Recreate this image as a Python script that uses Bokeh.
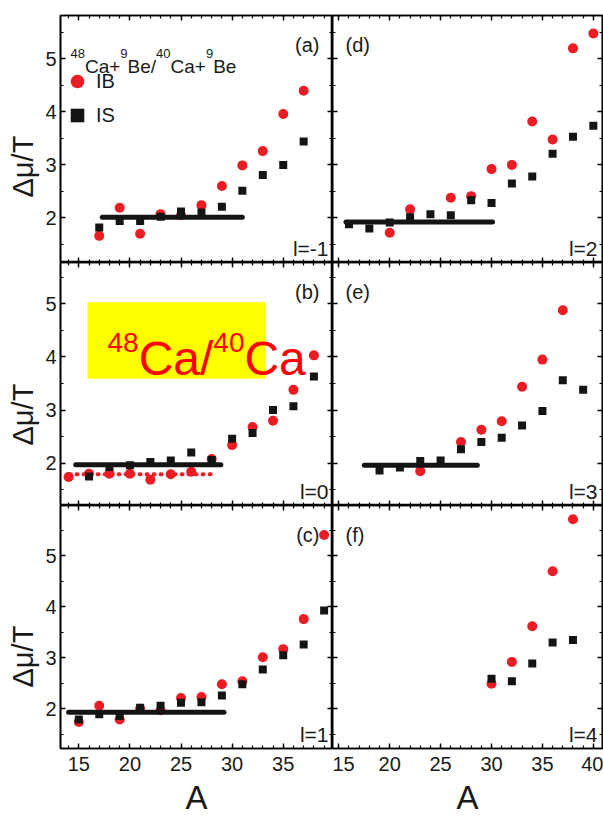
from bokeh.plotting import figure
from bokeh.layouts import gridplot
from bokeh.models import (Range1d, LinearAxis, Label, Legend, LegendItem, BoxAnnotation,
                          SingleIntervalTicker, CustomJSTickFormatter, Title)
from bokeh.embed import file_html
from bokeh.resources import INLINE

# ---------------- data ----------------
# panel (a)  l = -1
A_a = [17, 19, 21, 23, 25, 27, 29, 31, 33, 35, 37]
IB_a = [1.66, 2.19, 1.70, 2.07, 2.05, 2.24, 2.60, 2.99, 3.26, 3.96, 4.40]
IS_a = [1.82, 1.94, 1.94, 2.02, 2.12, 2.10, 2.21, 2.51, 2.81, 3.00, 3.44]
FIT_a_A = [17.3, 31.0]
FIT_a = [2.01, 2.01]

# panel (b)  l = 0
A_b_IB = [14, 16, 18, 20, 22, 24, 26, 28, 30, 32, 34, 36, 38]
IB_b = [1.74, 1.80, 1.80, 1.80, 1.69, 1.79, 1.84, 2.08, 2.34, 2.68, 2.80, 3.38, 4.03]
A_b_IS = [16, 18, 20, 22, 24, 26, 28, 30, 32, 34, 36, 38]
IS_b = [1.75, 1.93, 1.96, 2.02, 2.05, 2.20, 2.06, 2.46, 2.57, 3.00, 3.07, 3.63]
FIT_b_A = [14.7, 28.9]
FIT_b = [1.97, 1.97]
FITR_b_A = [14.1, 28.4]
FITR_b = [1.79, 1.79]

# panel (c)  l = 1
A_c = [15, 17, 19, 21, 23, 25, 27, 29, 31, 33, 35, 37, 39]
IB_c = [1.74, 2.06, 1.79, 2.00, 1.97, 2.21, 2.23, 2.48, 2.54, 3.01, 3.17, 3.76, 5.41]
IS_c = [1.79, 1.89, 1.86, 2.02, 2.06, 2.12, 2.13, 2.26, 2.48, 2.77, 3.05, 3.26, 3.93]
FIT_c_A = [14.0, 29.2]
FIT_c = [1.93, 1.93]

# panel (d)  l = 2
A_d_IB = [20, 22, 26, 28, 30, 32, 34, 36, 38, 40]
IB_d = [1.72, 2.16, 2.38, 2.41, 2.92, 3.00, 3.82, 3.48, 5.20, 5.48]
A_d_IS = [16, 18, 20, 22, 24, 26, 28, 30, 32, 34, 36, 38, 40]
IS_d = [1.88, 1.80, 1.91, 2.01, 2.07, 2.05, 2.33, 2.28, 2.65, 2.78, 3.21, 3.53, 3.74]
FIT_d_A = [15.7, 30.1]
FIT_d = [1.92, 1.92]

# panel (e)  l = 3
A_e_IB = [23, 27, 29, 31, 33, 35, 37]
IB_e = [1.85, 2.40, 2.63, 2.79, 3.44, 3.95, 4.88]
A_e_IS = [19, 21, 23, 25, 27, 29, 31, 33, 35, 37, 39]
IS_e = [1.86, 1.92, 2.04, 2.05, 2.26, 2.40, 2.48, 2.71, 2.98, 3.56, 3.38]
FIT_e_A = [17.5, 28.6]
FIT_e = [1.96, 1.96]

# panel (f)  l = 4
A_f = [30, 32, 34, 36, 38]
IB_f = [2.49, 2.92, 3.62, 4.70, 5.72]
IS_f = [2.59, 2.54, 2.89, 3.30, 3.35]

TAGS = [["(a)", "(d)"], ["(b)", "(e)"], ["(c)", "(f)"]]
LTXT = [["l=-1", "l=2"], ["l=0", "l=3"], ["l=1", "l=4"]]
# legend title 48Ca+9Be/40Ca+9Be : (text, is_superscript)
TITLE_PARTS = [("48", True), ("Ca+", False), ("9", True), ("Be/", False),
               ("40", True), ("Ca+", False), ("9", True), ("Be", False)]
# yellow box 48Ca/40Ca
BOX_PARTS = [("48", True), ("Ca/", False), ("40", True), ("Ca", False)]
X_LABEL = "A"
Y_LABEL = "Δμ/T"

# ---------------- styling ----------------
RED = "#ec1c24"
BLACK = "#141414"
TXT = "#1a1a1a"
FONT = "Liberation Sans"

XR = [(13.21, 39.82), (14.38, 40.90)]
YR = [(1.157, 5.82), (1.203, 5.778), (1.22, 5.99)]
FW = [272, 270]
FH = [247, 243, 243]
YLAB_OFF = [65, 60, 61]   # start of the y-title above the frame bottom

# Arial / Liberation Sans advance widths (em) for laying out rich text
ADV = {"0": .556, "1": .556, "2": .556, "3": .556, "4": .556, "5": .556, "6": .556,
       "7": .556, "8": .556, "9": .556, "C": .722, "a": .556, "+": .584, "B": .667,
       "e": .556, "/": .278}


def text_width(s, size):
    return sum(ADV[c] for c in s) * size


def style_axis(ax, ticker):
    ax.ticker = ticker
    ax.axis_line_width = 1.6
    ax.axis_line_color = "black"
    ax.major_tick_in = 5
    ax.major_tick_out = 0
    ax.minor_tick_in = 3
    ax.minor_tick_out = 0
    ax.major_tick_line_width = 1.4
    ax.minor_tick_line_width = 1.2
    ax.major_tick_line_color = "black"
    ax.minor_tick_line_color = "black"


def blank_labels(ax):
    ax.formatter = CustomJSTickFormatter(code="return ''")
    ax.major_label_text_font_size = "0px"
    ax.major_label_standoff = 0


def make_panel(row, col):
    p = figure(frame_width=FW[col], frame_height=FH[row],
               x_range=Range1d(*XR[col]), y_range=Range1d(*YR[row]),
               output_backend="svg", toolbar_location=None, tools="",
               min_border_left=60 if col == 0 else 0,
               min_border_right=0 if col == 0 else 1,
               min_border_top=15 if row == 0 else 0,
               min_border_bottom=72 if row == 2 else 0,
               background_fill_color="white", border_fill_color="white",
               outline_line_color="black", outline_line_width=1.6)
    p.xgrid.visible = False
    p.ygrid.visible = False
    p.add_layout(LinearAxis(), "above")
    p.add_layout(LinearAxis(), "right")
    for ax in p.below + p.above:
        style_axis(ax, SingleIntervalTicker(interval=5, num_minor_ticks=5))
    for ax in p.left + p.right:
        style_axis(ax, SingleIntervalTicker(interval=1, num_minor_ticks=2))
    for ax in p.above + p.right:
        blank_labels(ax)
    bottom = p.below[0]
    left = p.left[0]
    if row == 2:
        bottom.major_label_text_font = FONT
        bottom.major_label_text_font_size = "20px"
        bottom.major_label_text_color = TXT
        bottom.major_label_standoff = 8
        bottom.axis_label = X_LABEL
        bottom.axis_label_text_font = FONT
        bottom.axis_label_text_font_size = "33px"
        bottom.axis_label_text_font_style = "normal"
        bottom.axis_label_text_color = TXT
        bottom.axis_label_standoff = 5
    else:
        blank_labels(bottom)
    if col == 0:
        left.major_label_text_font = FONT
        left.major_label_text_font_size = "20px"
        left.major_label_text_color = TXT
        left.major_label_standoff = 4
        # y title sits below the frame centre in the reference
        p.add_layout(Title(text=Y_LABEL, align="left", offset=YLAB_OFF[row], standoff=7,
                           text_font=FONT, text_font_size="29px", text_font_style="normal",
                           text_color=TXT), "left")
    else:
        blank_labels(left)

    # panel tag and l-value
    if col == 0:
        p.add_layout(Label(x=FW[col] - 13, y=FH[row] - 18, x_units="screen", y_units="screen",
                           text=TAGS[row][col], text_align="right", text_baseline="top",
                           text_font=FONT, text_font_size="20px", text_color=TXT))
        lx = FW[col] - 4
    else:
        p.add_layout(Label(x=13, y=FH[row] - 18, x_units="screen", y_units="screen",
                           text=TAGS[row][col], text_align="left", text_baseline="top",
                           text_font=FONT, text_font_size="20px", text_color=TXT))
        lx = FW[col] - 5
    p.add_layout(Label(x=lx, y=14, x_units="screen", y_units="screen",
                       text=LTXT[row][col], text_align="right", text_baseline="alphabetic",
                       text_font=FONT, text_font_size="21px", text_color=TXT))
    return p


def rich_text(p, parts, x0, y0, size, sup_size, sup_rise, color):
    x = x0
    for s, sup in parts:
        fs = sup_size if sup else size
        p.add_layout(Label(x=x, y=y0 + (sup_rise if sup else 0), x_units="screen",
                           y_units="screen", text=s, text_font=FONT,
                           text_font_size=f"{fs}px", text_color=color,
                           text_baseline="alphabetic", text_align="left"))
        x += text_width(s, fs)


def add_points(p, xb, yb, xs, ys):
    rb = p.scatter(xb, yb, marker="circle", size=10, fill_color=RED, line_color=None)
    rs = p.scatter(xs, ys, marker="square", size=8, fill_color=BLACK, line_color=None)
    return rb, rs


def add_fit(p, fx, fy):
    p.line(fx, fy, line_width=5, line_color=BLACK, line_cap="round")


# (a)
pa = make_panel(0, 0)
rb_a, rs_a = add_points(pa, A_a, IB_a, A_a, IS_a)
add_fit(pa, FIT_a_A, FIT_a)
rich_text(pa, TITLE_PARTS, 10, 196, 19, 13, 13, TXT)
legend = Legend(items=[LegendItem(label="IB", renderers=[rb_a]),
                       LegendItem(label="IS", renderers=[rs_a])],
                location=(0, 130), glyph_width=34, glyph_height=34, spacing=-4,
                label_standoff=2, padding=0, margin=0,
                background_fill_alpha=0, border_line_alpha=0,
                label_text_font=FONT, label_text_font_size="20px",
                label_text_color=TXT)
pa.add_layout(legend)

# (b)
pb = make_panel(1, 0)
pb.scatter(A_b_IB, IB_b, marker="circle", size=10, fill_color=RED, line_color=None)
pb.line(FITR_b_A, FITR_b, line_width=4, line_color=RED, line_dash="1 6", line_cap="round")
pb.scatter(A_b_IS, IS_b, marker="square", size=8, fill_color=BLACK, line_color=None)
add_fit(pb, FIT_b_A, FIT_b)
pb.add_layout(BoxAnnotation(left=15.85, right=33.27, bottom=3.59, top=5.03,
                            fill_color="#ffff00", fill_alpha=1.0, line_alpha=0))
rich_text(pb, BOX_PARTS, 47, 147, 48, 28, 16, "#ff0000")

# (c)
pc = make_panel(2, 0)
add_points(pc, A_c, IB_c, A_c, IS_c)
add_fit(pc, FIT_c_A, FIT_c)

# (d)
pd_ = make_panel(0, 1)
add_points(pd_, A_d_IB, IB_d, A_d_IS, IS_d)
add_fit(pd_, FIT_d_A, FIT_d)

# (e)
pe = make_panel(1, 1)
add_points(pe, A_e_IB, IB_e, A_e_IS, IS_e)
add_fit(pe, FIT_e_A, FIT_e)

# (f)
pf = make_panel(2, 1)
add_points(pf, A_f, IB_f, A_f, IS_f)

grid = gridplot([[pa, pd_], [pb, pe], [pc, pf]], toolbar_location=None)

open("out.html", "w").write(file_html(grid, INLINE))
